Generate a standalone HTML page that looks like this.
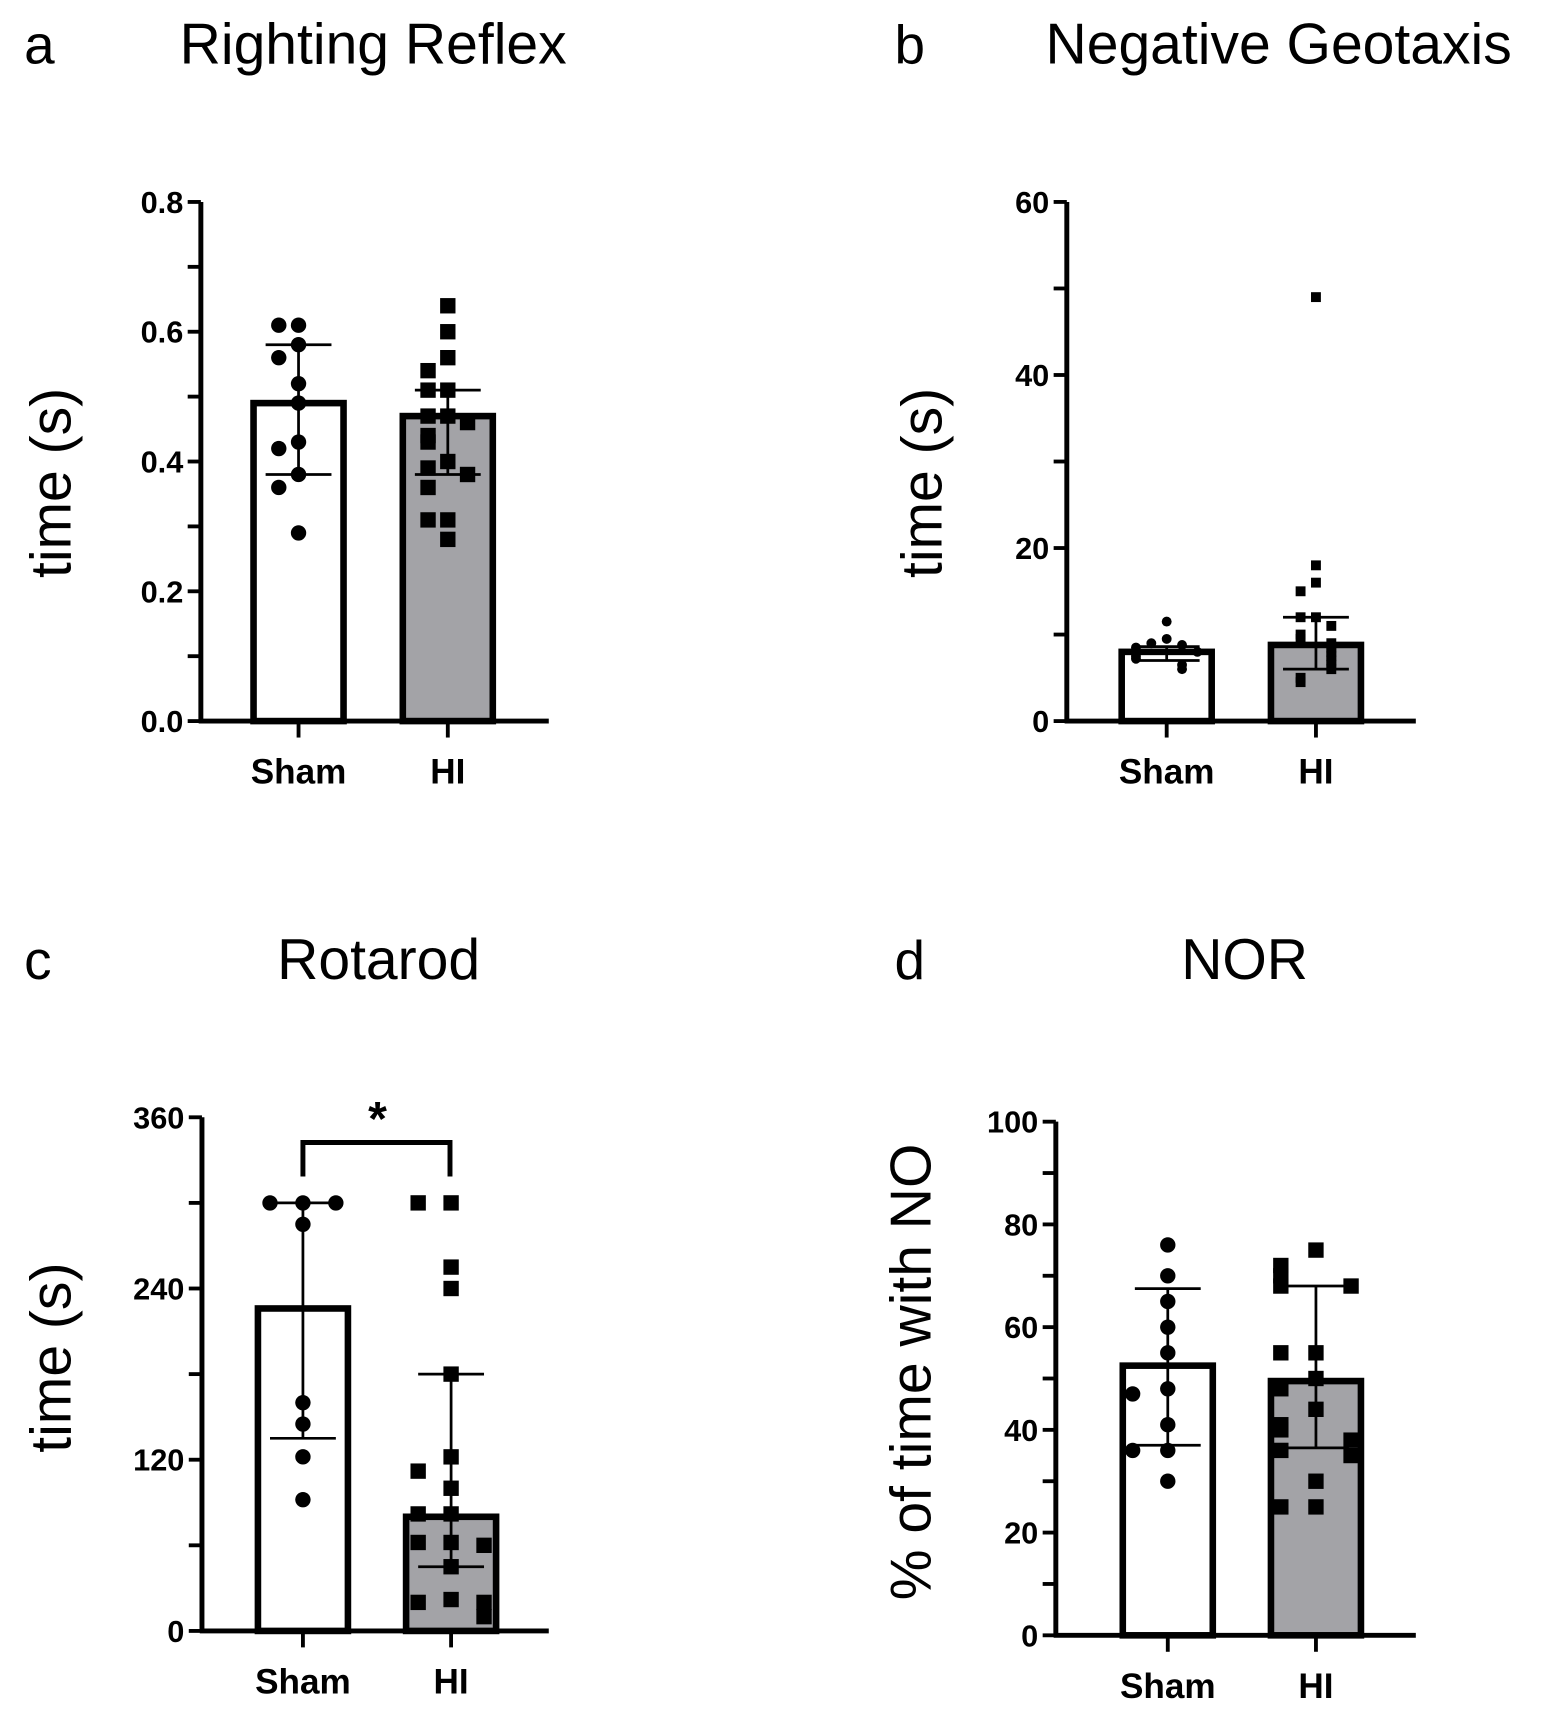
<!DOCTYPE html>
<html><head><meta charset="utf-8"><style>
html,body{margin:0;padding:0;background:#fff}
svg{display:block}
text{font-family:"Liberation Sans",sans-serif;fill:#000}
</style></head><body>
<svg id="fig" width="1546" height="1724" viewBox="0 0 1408.6 1570.8" xmlns="http://www.w3.org/2000/svg"></svg>
<script>
// ---- data ----
const categories = ["Sham", "HI"];
const aMeans = [0.49, 0.47];
const aErrLow = [0.38, 0.38];
const aErrHigh = [0.58, 0.51];
const aSham = [0.61,0.61,0.58,0.56,0.52,0.49,0.43,0.42,0.38,0.36,0.29];
const aHI = [0.64,0.60,0.56,0.54,0.51,0.51,0.47,0.47,0.46,0.44,0.43,0.40,0.39,0.38,0.36,0.31,0.31,0.28];
const aTicks = [0.0,0.2,0.4,0.6,0.8];
const aTickLabels = ["0.0","0.2","0.4","0.6","0.8"];

const bMeans = [8.0, 8.8];
const bErrLow = [7.0, 6.0];
const bErrHigh = [8.6, 12.0];
const bSham = [11.5,9.5,9.0,8.8,8.5,8.2,8.0,7.5,7.2,6.5,6.0];
const bHI = [49,18,16,15,12,12,11,10,9.5,9,8.5,8,7.5,7,6.5,6,5,4.5];
const bTicks = [0,20,40,60];
const bTickLabels = ["0","20","40","60"];

const cMeans = [226, 80];
const cErrLow = [135, 45];
const cErrHigh = [300, 180];
const cSham = [300,300,300,285,160,145,122,92];
const cHI = [300,300,255,240,180,122,112,100,82,82,62,62,60,45,22,20,20,10];
const cTicks = [0,120,240,360];
const cTickLabels = ["0","120","240","360"];

const dMeans = [52.5, 49.5];
const dErrLow = [37, 36.5];
const dErrHigh = [67.5, 68];
const dSham = [76,70,65,60,55,48,47,41,36,36,30];
const dHI = [75,72,70,68,68,55,55,50,48,44,41,40,38,36,35,30,25,25];
const dTicks = [0,20,40,60,80,100];
const dTickLabels = ["0","20","40","60","80","100"];

const NS = "http://www.w3.org/2000/svg";
const svg = document.getElementById("fig");
function el(tag, attrs, parent){
  const e = document.createElementNS(NS, tag);
  for (const k in attrs) e.setAttribute(k, attrs[k]);
  (parent||svg).appendChild(e);
  return e;
}
function txt(s, attrs, parent){ const t = el("text", attrs, parent); t.textContent = s; return t; }

function panel(cfg){
  const g = el("g", {});
  
  
  const y = v => cfg.y0 - (v - 0) / cfg.ymax * (cfg.y0 - cfg.yTop);
  const L = txt(cfg.letter, {x:cfg.letterX, y:cfg.titleY, "font-size":50}, g);
  
  
  const T = txt(cfg.title, {x:cfg.titleX, y:cfg.titleY, "font-size":52, "text-anchor":"middle"}, g);
  
  
  const YT = txt(cfg.ytitle, {x:0, y:0, "font-size":52, "text-anchor":"middle", transform:`translate(${cfg.ytitleX},${cfg.ytitleY}) rotate(-90)`}, g);
  
  
  const centers = [cfg.c0, cfg.c1];
  const bw = 82;
  cfg.means.forEach((m,i)=>{
    const b = el("rect", {x:centers[i]-bw/2, y:y(m), width:bw, height:cfg.y0-y(m), fill:i?"#a3a3a7":"#fff", stroke:"#000", "stroke-width":6}, g);
    
    
  });
  [cfg.sham, cfg.hi].forEach((pts,i)=>{
    const placed = [];
    pts.forEach(v=>{
      const near = placed.filter(p=>Math.abs(y(p)-y(v)) < cfg.ms*1.1).length;
      placed.push(v);
      const offs = [0,-1,1,-2,2][near % 5];
      const cx = centers[i] + offs * cfg.sp;
      let m;
      if (i===0) m = el("circle", {cx:cx, cy:y(v), r:cfg.ms/2, fill:"#000"}, g);
      else m = el("rect", {x:cx-cfg.ms/2, y:y(v)-cfg.ms/2, width:cfg.ms, height:cfg.ms, fill:"#000"}, g);
      
      
    });
  });
  cfg.means.forEach((m,i)=>{
    const c = centers[i];
    const e = el("path", {d:`M${c},${y(cfg.lo[i])}V${y(cfg.hi2[i])}M${c-30},${y(cfg.lo[i])}H${c+30}M${c-30},${y(cfg.hi2[i])}H${c+30}`, stroke:"#000", "stroke-width":2.5, fill:"none"}, g);
    
    
  });
  const ax = el("path", {d:`M${cfg.ax},${cfg.yTop}V${cfg.y0}M${cfg.ax-2},${cfg.y0}H${cfg.xEnd}`, stroke:"#000", "stroke-width":4.5, fill:"none"}, g);
  
  
  for (let v=0; v<=cfg.ymax+1e-9; v+=cfg.minor){
    el("line", {x1:cfg.ax-12, x2:cfg.ax, y1:y(v), y2:y(v), stroke:"#000", "stroke-width":3.5}, g);
  }
  cfg.ticks.forEach((v,i)=>{
    const t = txt(cfg.tickLabels[i], {x:cfg.ax-16, y:y(v)+10, "font-size":28, "font-weight":"bold", "text-anchor":"end"}, g);
    
    
  });
  centers.forEach((c,i)=>{
    el("line", {x1:c, x2:c, y1:cfg.y0, y2:cfg.y0+15, stroke:"#000", "stroke-width":3.5}, g);
    const t = txt(categories[i], {x:c, y:cfg.y0+57, "font-size":32, "font-weight":"bold", "text-anchor":"middle"}, g);
    
    
  });
  return {g, y, centers};
}

panel({name:"panel-a-righting-reflex", letter:"a", letterX:22, title:"Righting Reflex", titleX:340, titleY:58,
  ytitle:"time (s)", ytitleX:64, ytitleY:440, ax:183, yTop:184, y0:657, ymax:0.8, minor:0.1, xEnd:500,
  c0:272, c1:408, means:aMeans, lo:aErrLow, hi2:aErrHigh, sham:aSham, hi:aHI, ticks:aTicks, tickLabels:aTickLabels, ms:14, sp:18});
panel({name:"panel-b-negative-geotaxis", letter:"b", letterX:815, title:"Negative Geotaxis", titleX:1165, titleY:58,
  ytitle:"time (s)", ytitleX:858, ytitleY:440, ax:972, yTop:184, y0:657, ymax:60, minor:10, xEnd:1290,
  c0:1063, c1:1199, means:bMeans, lo:bErrLow, hi2:bErrHigh, sham:bSham, hi:bHI, ticks:bTicks, tickLabels:bTickLabels, ms:9, sp:14});
const pc = panel({name:"panel-c-rotarod", letter:"c", letterX:22, title:"Rotarod", titleX:345, titleY:892,
  ytitle:"time (s)", ytitleX:64, ytitleY:1237, ax:184, yTop:1018, y0:1486, ymax:360, minor:60, xEnd:500,
  c0:276, c1:411, means:cMeans, lo:cErrLow, hi2:cErrHigh, sham:cSham, hi:cHI, ticks:cTicks, tickLabels:cTickLabels, ms:14, sp:30});
panel({name:"panel-d-nor", letter:"d", letterX:815, title:"NOR", titleX:1134, titleY:892,
  ytitle:"% of time with NO", ytitleX:848, ytitleY:1250, ax:962, yTop:1022, y0:1490, ymax:100, minor:10, xEnd:1290,
  c0:1064, c1:1199, means:dMeans, lo:dErrLow, hi2:dErrHigh, sham:dSham, hi:dHI, ticks:dTicks, tickLabels:dTickLabels, ms:14, sp:32});

const br = el("path", {d:"M276,1072V1041H410V1072", stroke:"#000", "stroke-width":4.5, fill:"none"}, pc.g);


const st = txt("*", {x:344, y:1034, "font-size":44, "font-weight":"bold", "text-anchor":"middle"}, pc.g);


</script>
</body></html>
